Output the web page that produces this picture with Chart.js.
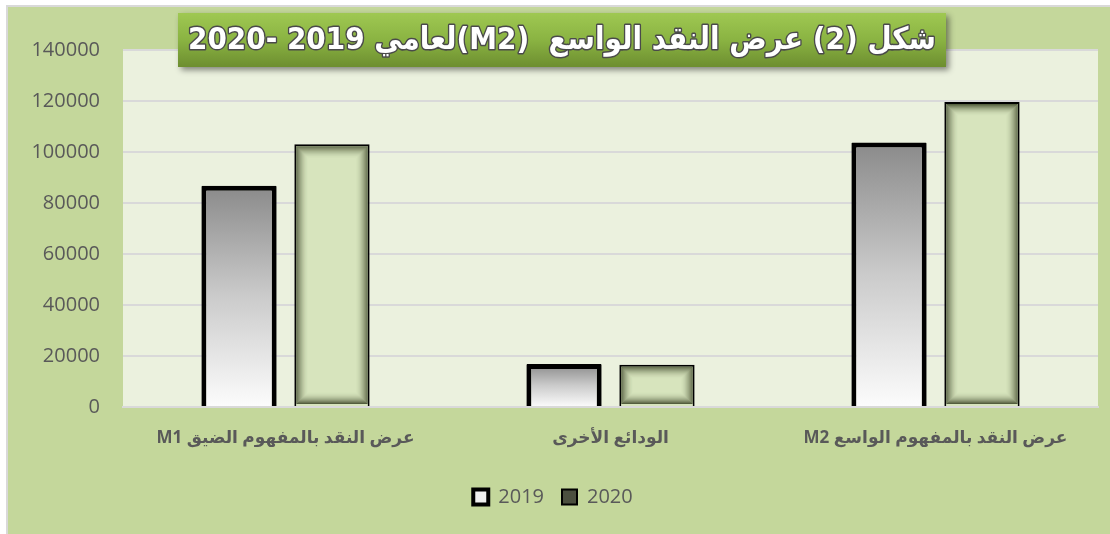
<!DOCTYPE html>
<html>
<head>
<meta charset="utf-8">
<script src="https://cdn.jsdelivr.net/npm/chart.js@4.4.1/dist/chart.umd.min.js"></script>
<style>
  html, body { margin: 0; padding: 0; background: #ffffff; }
  #wrap {
    position: absolute; left: 6px; top: 5px; width: 1102px; height: 527px;
    background: #c4d79b; border-left: 2px solid #d9d9d9; border-top: 2px solid #d9d9d9;
  }
  #chart { display: block; direction: rtl; }
</style>
</head>
<body>
<div id="wrap"><canvas id="chart" width="1102" height="527"></canvas></div>
<script>
// data
const categories = ['عرض النقد بالمفهوم الضيق M1', 'الودائع الأخرى', 'عرض النقد بالمفهوم الواسع M2'];
const seriesNames = ['2019', '2020'];
const values2019 = [86800, 16900, 103700];
const values2020 = [103000, 16600, 119600];
const yTicks = [0, 20000, 40000, 60000, 80000, 100000, 120000, 140000];
const titleText = 'شكل (2) عرض النقد الواسع  (M2)لعامي 2019 -2020';

Chart.defaults.font.family = "'Open Sans', 'DejaVu Sans', sans-serif";
Chart.defaults.color = '#595959';

// gray-to-white gradient per 2019 bar
function greyGradient(c) {
    const chart = c.chart;
    if (!chart.chartArea || c.type !== 'data') return '#bfbfbf';
    const y = chart.scales.y;
    const top = y.getPixelForValue(c.raw);
    const bottom = y.getPixelForValue(0);
    const g = chart.ctx.createLinearGradient(0, top, 0, bottom);
    g.addColorStop(0, '#8a8a8a');
    g.addColorStop(0.5, '#cbcbcb');
    g.addColorStop(1, '#fcfcfc');
    return g;
}

// light background of the plot area
const plotBg = {
    id: 'plotBg',
    beforeDraw(chart) {
        const { ctx, chartArea: a } = chart;
        ctx.save();
        ctx.fillStyle = '#ebf1de';
        ctx.fillRect(a.left, a.top, a.right - a.left, a.bottom - a.top);
        ctx.restore();
    }
};

// dark inner glow on the green 2020 bars (stacked thin rings)
const innerGlow = {
    id: 'innerGlow',
    afterDatasetsDraw(chart) {
        const ctx = chart.ctx;
        const meta = chart.getDatasetMeta(1);
        meta.data.forEach(bar => {
            const p = bar.getProps(['x', 'y', 'base', 'width'], true);
            const l = p.x - p.width / 2 + 2, t = p.y + 2;
            const w = p.width - 4, h = p.base - p.y - 4;
            if (h <= 0) return;
            ctx.save();
            ctx.lineWidth = 1;
            for (let i = 0; i < 12; i++) {
                if (w - 2 * i <= 1 || h - 2 * i <= 1) break;
                const a = 0.85 * Math.pow(1 - i / 12, 2);
                ctx.strokeStyle = 'rgba(60, 70, 40, ' + a + ')';
                ctx.strokeRect(l + i + 0.5, t + i + 0.5, w - 2 * i - 1, h - 2 * i - 1);
            }
            ctx.restore();
        });
    }
};

// green title box drawn over the top of the chart
const titleBox = {
    id: 'titleBox',
    afterDraw(chart) {
        const ctx = chart.ctx;
        const x = 170, y = 6, w = 768, h = 54;
        ctx.save();
        ctx.shadowColor = 'rgba(0,0,0,0.45)';
        ctx.shadowBlur = 6;
        ctx.shadowOffsetX = 3;
        ctx.shadowOffsetY = 3;
        const g = ctx.createLinearGradient(0, y, 0, y + h);
        g.addColorStop(0, '#9fc852');
        g.addColorStop(0.5, '#8ab342');
        g.addColorStop(1, '#6d8e30');
        ctx.fillStyle = g;
        ctx.fillRect(x, y, w, h);
        ctx.restore();

        ctx.save();
        ctx.direction = 'rtl';
        ctx.textAlign = 'center';
        ctx.textBaseline = 'middle';
        ctx.font = "bold 31px 'DejaVu Sans'";
        ctx.lineJoin = 'round';
        ctx.lineWidth = 3;
        ctx.strokeStyle = '#4a4a4a';
        ctx.strokeText(titleText, x + w / 2, y + h / 2 + 1, 748);
        ctx.fillStyle = '#ffffff';
        ctx.fillText(titleText, x + w / 2, y + h / 2 + 1, 748);
        ctx.restore();
    }
};

const chart = new Chart(document.getElementById('chart'), {
    type: 'bar',
    data: {
        labels: categories,
        datasets: [{
            label: seriesNames[0],
            data: values2019,
            backgroundColor: greyGradient,
            borderColor: '#000000',
            borderWidth: 5,
            borderRadius: 1,
            categoryPercentage: 0.572,
            barPercentage: 0.81
        }, {
            label: seriesNames[1],
            data: values2020,
            backgroundColor: '#d7e4bd',
            borderColor: '#000000',
            borderWidth: 2,
            categoryPercentage: 0.572,
            barPercentage: 0.81
        }]
    },
    options: {
        responsive: false,
        animation: false,
        layout: { padding: { top: 43, right: 12, bottom: 17, left: 0 } },
        scales: {
            x: {
                grid: { display: false, drawTicks: false },
                border: { display: true, color: '#d9d9d9', width: 2 },
                ticks: {
                    padding: 21,
                    color: '#595959',
                    font: { size: 17, weight: 'bold' },
                    maxRotation: 0
                },
                afterFit(scale) { scale.height = 62; }
            },
            y: {
                min: 0,
                max: 140000,
                afterBuildTicks(scale) { scale.ticks = yTicks.map(v => ({ value: v })); },
                grid: { color: '#d9d9d9', lineWidth: 2, drawTicks: false },
                border: { display: false },
                ticks: {
                    padding: 23,
                    color: '#595959',
                    font: { size: 20 },
                    callback: v => String(v)
                },
                afterFit(scale) { scale.width = 115; }
            }
        },
        plugins: {
            tooltip: { enabled: false },
            legend: {
                position: 'bottom',
                labels: {
                    boxWidth: 15,
                    boxHeight: 15,
                    padding: 18,
                    font: { size: 20 },
                    color: '#595959',
                    generateLabels() {
                        return [
                            { text: seriesNames[0], fillStyle: '#efefef', strokeStyle: '#000000', lineWidth: 4, datasetIndex: 0, fontColor: '#595959' },
                            { text: seriesNames[1], fillStyle: '#4b4f3f', strokeStyle: '#000000', lineWidth: 2, datasetIndex: 1, fontColor: '#595959' }
                        ];
                    }
                }
            }
        }
    },
    plugins: [plotBg, innerGlow, titleBox]
});
</script>
</body>
</html>
